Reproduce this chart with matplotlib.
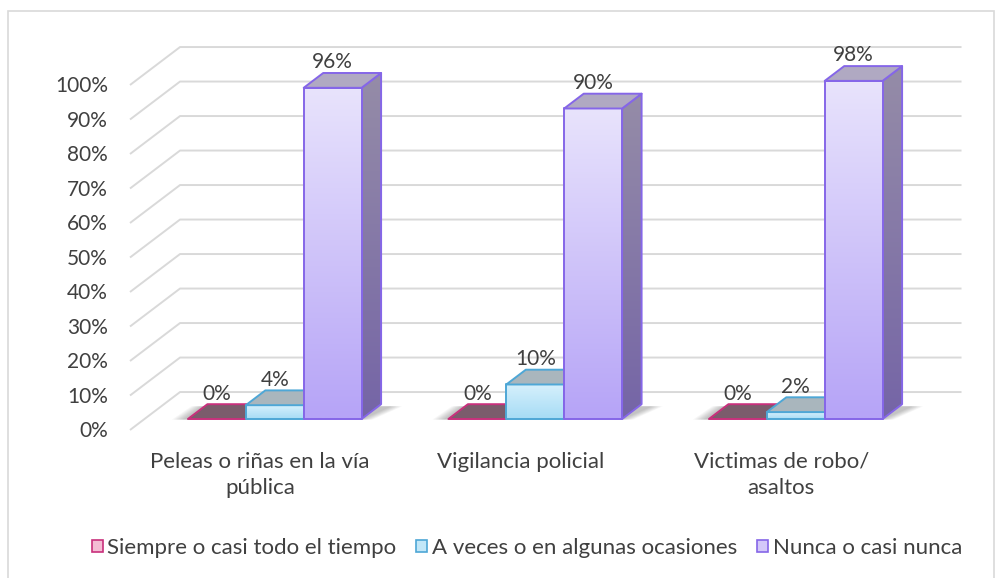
"""
3D-style clustered column chart (Excel look) drawn with an oblique projection
"""
import numpy as np
import matplotlib
matplotlib.use('Agg')
import matplotlib.pyplot as plt
from matplotlib.patches import Polygon, Rectangle, Patch

plt.rcParams['font.family'] = ['Lato', 'DejaVu Sans']

categories = ["Peleas o riñas en la vía\npública", "Vigilancia policial",
              "Victimas de robo/\nasaltos"]
series_names = ["Siempre o casi todo el tiempo", "A veces o en algunas ocasiones",
                "Nunca o casi nunca"]
siempre = [0, 0, 0]
a_veces = [4, 10, 2]
nunca = [96, 90, 98]
y_ticks = [0, 10, 20, 30, 40, 50, 60, 70, 80, 90, 100]

TEXT = '#404040'
GRID = '#d9d9d9'
FS = 16
FS_NUM = 15

# colours per series: front top/bottom, side top/bottom, top face, edge, legend fill
STYLE = [
    dict(front=('#f6c4da', '#ee9cc0'), side=('#9a6f84', '#8a5a72'),
         top='#7b5c6c', edge='#c8307c', leg='#f4bcd4'),
    dict(front=('#d6f0fc', '#a6dcf5'), side=('#93a6b0', '#7d96a3'),
         top='#a9b6bd', edge='#4ea7d6', leg='#c2e7f8'),
    dict(front=('#e8e3fc', '#b6a4f7'), side=('#958ca8', '#7565a6'),
         top='#b0a9c2', edge='#8566e8', leg='#d3c8f9'),
]

# oblique depth of the floor (data units) and depth slice used by the bars
DX, DY = 0.192, 11.0
F0, F1 = 0.29, 0.68
BAR_W = 1 / 4.5
OFFSET = 0.75 * BAR_W


def mix(c1, c2, n):
    a = np.array(matplotlib.colors.to_rgb(c1))
    b = np.array(matplotlib.colors.to_rgb(c2))
    t = np.linspace(0, 1, n)[:, None]
    return (a * (1 - t) + b * t)[:, None, :]


def gradient_poly(ax, pts, c_top, c_bot, edge, z):
    poly = Polygon(pts, closed=True, facecolor='none', edgecolor=edge,
                   linewidth=1.4, zorder=z + 0.1, joinstyle='round')
    ax.add_patch(poly)
    xs = [p[0] for p in pts]
    ys = [p[1] for p in pts]
    if max(ys) - min(ys) > 1e-6:
        im = ax.imshow(mix(c_top, c_bot, 64), extent=[min(xs), max(xs), min(ys), max(ys)],
                       aspect='auto', origin='upper', zorder=z, interpolation='bilinear')
        im.set_clip_path(poly)
    return poly


def draw_bar(ax, x0, h, st, z):
    x1 = x0 + BAR_W
    a0, b0 = F0 * DX, F0 * DY
    a1, b1 = F1 * DX, F1 * DY
    side = [(x1 + a0, b0), (x1 + a1, b1), (x1 + a1, h + b1), (x1 + a0, h + b0)]
    front = [(x0 + a0, b0), (x1 + a0, b0), (x1 + a0, h + b0), (x0 + a0, h + b0)]
    top = [(x0 + a0, h + b0), (x1 + a0, h + b0), (x1 + a1, h + b1), (x0 + a1, h + b1)]
    if h > 0:
        gradient_poly(ax, side, st['side'][0], st['side'][1], st['edge'], z)
        gradient_poly(ax, front, st['front'][0], st['front'][1], st['edge'], z + 0.2)
    ax.add_patch(Polygon(top, closed=True, facecolor=st['top'], edgecolor=st['edge'],
                         linewidth=1.4, zorder=z + 0.3, joinstyle='round'))
    ax.text(x0 + a0 + BAR_W / 2, h + b1 + 0.2, f"{h}%", ha='center', va='bottom',
            fontsize=FS_NUM, color=TEXT, zorder=20)


fig = plt.figure(figsize=(10.08, 5.78), dpi=100)
ax = fig.add_axes([0, 0, 1, 1])
ax.set_xlim(-130 / 260.5, (1008 - 130) / 260.5)
ax.set_ylim((430 - 578) / 3.45, 430 / 3.45)
ax.axis('off')

# chart border
fig.patches.append(Rectangle((8 / 1008, -0.05), 986 / 1008, 1.05 - 11 / 578,
                             transform=fig.transFigure, fill=False,
                             edgecolor=GRID, linewidth=1.2))

# wall gridlines + value labels
n_cat = len(categories)
for v in y_ticks:
    ax.plot([0, DX, n_cat + DX], [v, v + DY, v + DY], color=GRID, lw=1.4, zorder=1,
            solid_capstyle='butt')
    ax.text(-0.085, v - 0.4, f"{v}%", ha='right', va='center', fontsize=FS_NUM, color=TEXT)

values = [siempre, a_veces, nunca]
for i in range(n_cat):
    # soft shadow on the floor
    g0 = i + OFFSET + F0 * DX
    g1 = i + OFFSET + 3 * BAR_W + F0 * DX
    for k in range(8):
        e = 0.006 * k
        ax.add_patch(Polygon([(g0 - 0.02 - e, F0 * DY - 0.2), (g1 + e, F0 * DY - 0.2),
                              (g1 + (F1 - F0) * DX + 0.04 + e, F1 * DY - 0.6),
                              (g0 + (F1 - F0) * DX - 0.02 - e, F1 * DY - 0.6)],
                             closed=True, facecolor='#000000', alpha=0.03,
                             edgecolor='none', zorder=2))
    for j, vals in enumerate(values):
        x0 = i + OFFSET + j * BAR_W
        draw_bar(ax, x0, vals[i], STYLE[j], 5 + j)
    ax.text(i + 0.5, -6.3, categories[i], ha='center', va='top', fontsize=FS,
            color=TEXT, linespacing=1.4)

handles = [Patch(facecolor=st['leg'], edgecolor=st['edge'], linewidth=1.2) for st in STYLE]
leg = ax.legend(handles, series_names, loc='center right', ncol=3, frameon=False,
                bbox_to_anchor=(962 / 1008, 1 - 548 / 578), bbox_transform=fig.transFigure,
                fontsize=FS, handlelength=0.5, handleheight=0.5, handletextpad=0.2,
                columnspacing=0.9, labelcolor=TEXT, borderpad=0, borderaxespad=0)

plt.savefig('out.png', dpi=100)
